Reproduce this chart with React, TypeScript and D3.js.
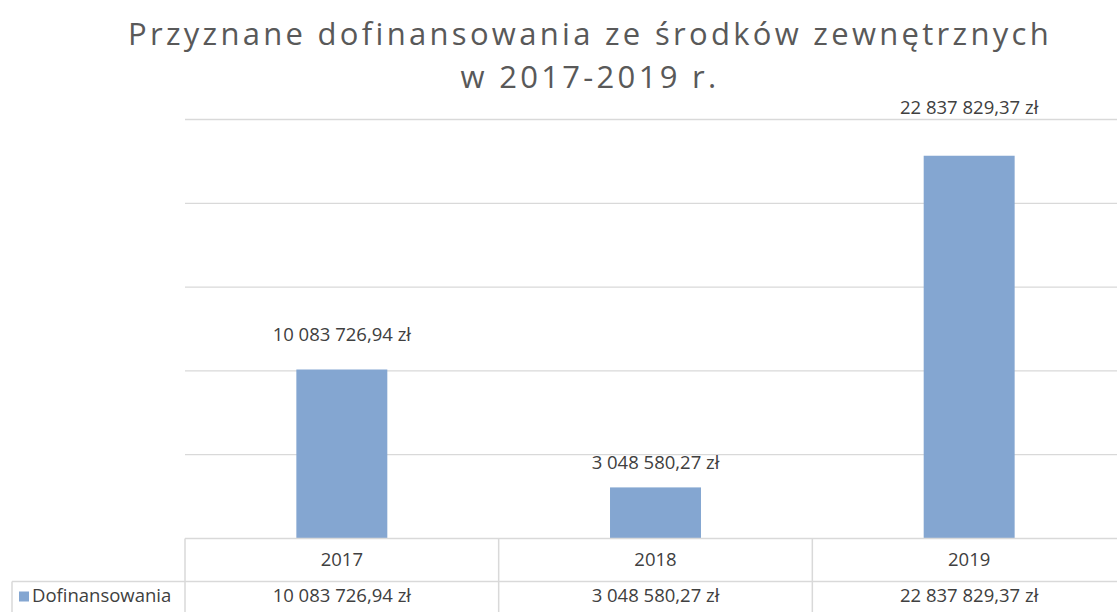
import React from 'react';
import * as d3 from 'd3';

const years = ['2017', '2018', '2019'];
const funding = [10083726.94, 3048580.27, 22837829.37];
const fundingLabels = ['10 083 726,94 zł', '3 048 580,27 zł', '22 837 829,37 zł'];
const seriesName = 'Dofinansowania';
const gridTicks = [0, 5000000, 10000000, 15000000, 20000000, 25000000];
const titleLines = ['Przyznane dofinansowania ze środków zewnętrznych', 'w 2017-2019 r.'];

const W = 1117;
const H = 612;
const plotLeft = 185;
const plotRight = 1126;
const plotBottom = 538.5;
const plotTop = 119.5;
const rowH = 43;

const textColor = '#404040';
const gridColor = '#d9d9d9';
const barColor = '#84a6d1';
const font = '"Open Sans", sans-serif';
const fontSize = 18.5;

// label distance above bar top (manual placement in the original)
const labelGap = [33, 23, 47];

export default function App() {
  const x = d3.scaleBand<string>().domain(years).range([plotLeft, plotRight]).paddingInner(0).paddingOuter(0);
  const y = d3.scaleLinear().domain([0, 25000000]).range([plotBottom, plotTop]);
  const barW = x.bandwidth() * 0.29;
  const valueRowTop = plotBottom + rowH + 1;

  return (
    <div style={{ position: 'fixed', left: 0, top: 0, width: W, height: H, background: '#fff' }}>
      <svg width={W} height={H} style={{ display: 'block' }}>
        <rect width={W} height={H} fill="#fff" />
        {titleLines.map((t, i) => (
          <text
            key={t}
            x={590}
            y={45 + i * 43}
            textAnchor="middle"
            fill="#595959"
            style={{ fontFamily: font, fontSize: 31, letterSpacing: 3.3 }}
          >
            {t}
          </text>
        ))}
        {gridTicks.slice(1).map((v) => (
          <line key={v} x1={plotLeft} x2={W} y1={y(v)} y2={y(v)} stroke={gridColor} strokeWidth={1.3} />
        ))}
        {funding.map((v, i) => (
          <g key={years[i]}>
            <rect
              x={(x(years[i]) as number) + (x.bandwidth() - barW) / 2}
              y={y(v)}
              width={barW}
              height={plotBottom - y(v)}
              fill={barColor}
            />
            <text
              x={(x(years[i]) as number) + x.bandwidth() / 2}
              y={y(v) - labelGap[i]}
              textAnchor="middle"
              dominantBaseline="middle"
              fill={textColor}
              style={{ fontFamily: font, fontSize }}
            >
              {fundingLabels[i]}
            </text>
          </g>
        ))}
        {/* data table */}
        <g stroke={gridColor} strokeWidth={1.5} fill="none">
          <line x1={plotLeft} x2={W} y1={plotBottom} y2={plotBottom} />
          <line x1={12} x2={W} y1={valueRowTop - 1} y2={valueRowTop - 1} />
          <line x1={12} x2={12} y1={valueRowTop - 1} y2={H} />
          {years.map((yr) => (
            <line key={yr} x1={x(yr) as number} x2={x(yr) as number} y1={plotBottom} y2={H} />
          ))}
        </g>
        {years.map((yr, i) => (
          <g key={'t' + yr} fill={textColor} style={{ fontFamily: font, fontSize }}>
            <text x={(x(yr) as number) + x.bandwidth() / 2} y={plotBottom + rowH / 2 + 1} textAnchor="middle" dominantBaseline="middle">
              {yr}
            </text>
            <text x={(x(yr) as number) + x.bandwidth() / 2} y={valueRowTop + 15} textAnchor="middle" dominantBaseline="middle">
              {fundingLabels[i]}
            </text>
          </g>
        ))}
        <rect x={19} y={valueRowTop + 9} width={10} height={10} fill={barColor} />
        <text
          x={32}
          y={valueRowTop + 15}
          dominantBaseline="middle"
          fill={textColor}
          style={{ fontFamily: font, fontSize }}
        >
          {seriesName}
        </text>
      </svg>
    </div>
  );
}
